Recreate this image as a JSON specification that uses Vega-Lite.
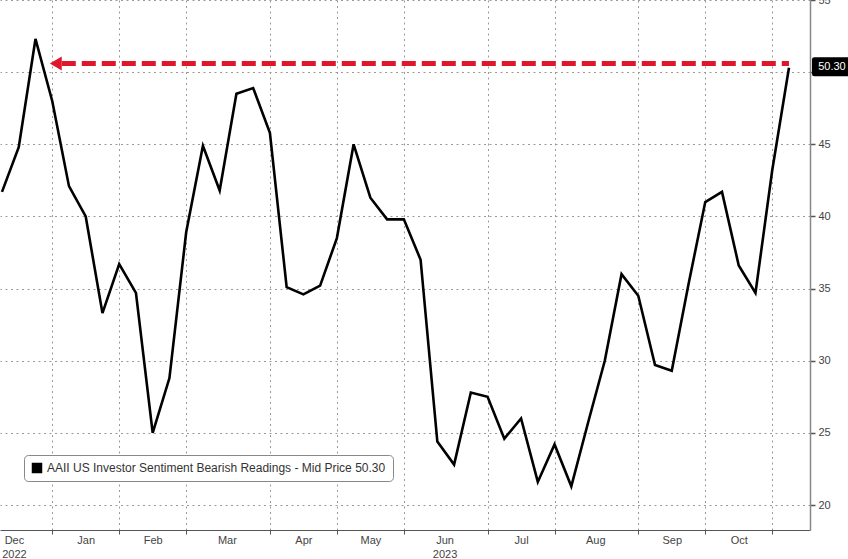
{
  "$schema": "https://vega.github.io/schema/vega-lite/v6.json",
  "width": 810,
  "height": 530,
  "autosize": {"type": "none"},
  "padding": {"left": 0, "top": 0, "right": 38, "bottom": 29},
  "background": "white",
  "config": {
    "view": {"stroke": null},
    "font": "Liberation Sans",
    "axis": {"labelFont": "Liberation Sans", "labelColor": "#444", "labelFontSize": 11}
  },
  "datasets": {
    "aaii": [
      {"date": "2022-12-08", "bearish": 41.7},
      {"date": "2022-12-15", "bearish": 44.8},
      {"date": "2022-12-22", "bearish": 52.3},
      {"date": "2022-12-29", "bearish": 48.0},
      {"date": "2023-01-05", "bearish": 42.1},
      {"date": "2023-01-12", "bearish": 40.0},
      {"date": "2023-01-19", "bearish": 33.3},
      {"date": "2023-01-26", "bearish": 36.7},
      {"date": "2023-02-02", "bearish": 34.7},
      {"date": "2023-02-09", "bearish": 25.0},
      {"date": "2023-02-16", "bearish": 28.8},
      {"date": "2023-02-23", "bearish": 38.9},
      {"date": "2023-03-02", "bearish": 44.9},
      {"date": "2023-03-09", "bearish": 41.8},
      {"date": "2023-03-16", "bearish": 48.5},
      {"date": "2023-03-23", "bearish": 48.9},
      {"date": "2023-03-30", "bearish": 45.8},
      {"date": "2023-04-06", "bearish": 35.1},
      {"date": "2023-04-13", "bearish": 34.6},
      {"date": "2023-04-20", "bearish": 35.2},
      {"date": "2023-04-27", "bearish": 38.5},
      {"date": "2023-05-04", "bearish": 45.0},
      {"date": "2023-05-11", "bearish": 41.3},
      {"date": "2023-05-18", "bearish": 39.8},
      {"date": "2023-05-25", "bearish": 39.8},
      {"date": "2023-06-01", "bearish": 37.0},
      {"date": "2023-06-08", "bearish": 24.4},
      {"date": "2023-06-15", "bearish": 22.8},
      {"date": "2023-06-22", "bearish": 27.8},
      {"date": "2023-06-29", "bearish": 27.5},
      {"date": "2023-07-06", "bearish": 24.6},
      {"date": "2023-07-13", "bearish": 26.0},
      {"date": "2023-07-20", "bearish": 21.6},
      {"date": "2023-07-27", "bearish": 24.2},
      {"date": "2023-08-03", "bearish": 21.3},
      {"date": "2023-08-10", "bearish": 25.7},
      {"date": "2023-08-17", "bearish": 30.0},
      {"date": "2023-08-24", "bearish": 36.0},
      {"date": "2023-08-31", "bearish": 34.5},
      {"date": "2023-09-07", "bearish": 29.7},
      {"date": "2023-09-14", "bearish": 29.3},
      {"date": "2023-09-21", "bearish": 35.3},
      {"date": "2023-09-28", "bearish": 41.0},
      {"date": "2023-10-05", "bearish": 41.7},
      {"date": "2023-10-12", "bearish": 36.6},
      {"date": "2023-10-19", "bearish": 34.7},
      {"date": "2023-10-26", "bearish": 43.2},
      {"date": "2023-11-02", "bearish": 50.3}
    ],
    "note": [{"start": "2023-01-02", "end": "2023-11-02", "level": 50.6}]
  },
  "resolve": {"axis": {"x": "independent", "y": "shared"}},
  "layer": [
    {
      "data": {"name": "aaii"},
      "mark": {"type": "line", "color": "#000000", "strokeWidth": 2.6, "strokeJoin": "miter"},
      "encoding": {
        "x": {
          "field": "date", "type": "temporal",
          "scale": {"type": "utc", "domain": [{"year": 2022, "month": 12, "date": 7, "hours": 4, "utc": true}, {"year": 2023, "month": 11, "date": 10, "hours": 19, "utc": true}]},
          "axis": {
            "orient": "bottom",
            "values": [
              {"year": 2022, "month": 12, "date": 29, "utc": true},
              {"year": 2023, "month": 1, "date": 26, "utc": true},
              {"year": 2023, "month": 2, "date": 23, "utc": true},
              {"year": 2023, "month": 3, "date": 30, "utc": true},
              {"year": 2023, "month": 4, "date": 27, "utc": true},
              {"year": 2023, "month": 5, "date": 25, "utc": true},
              {"year": 2023, "month": 6, "date": 29, "utc": true},
              {"year": 2023, "month": 7, "date": 27, "utc": true},
              {"year": 2023, "month": 8, "date": 31, "utc": true},
              {"year": 2023, "month": 9, "date": 28, "utc": true},
              {"year": 2023, "month": 10, "date": 26, "utc": true}
            ],
            "labels": false, "title": null,
            "grid": true, "gridColor": "#9a9a9a", "gridDash": [2, 3.5], "gridWidth": 1,
            "ticks": true, "tickSize": 4, "tickColor": "#555",
            "domain": true, "domainColor": "#555", "domainWidth": 1.2
          }
        },
        "y": {
          "field": "bearish", "type": "quantitative",
          "scale": {"domain": [18.27, 55], "nice": false, "zero": false},
          "axis": {
            "orient": "right", "title": null,
            "values": [20, 22.5, 25, 27.5, 30, 32.5, 35, 37.5, 40, 42.5, 45, 47.5, 50, 52.5, 55],
            "labelExpr": "(datum.value % 5 == 0 && datum.value != 50) ? datum.label : ''",
            "labelPadding": 3,
            "grid": true, "gridDash": [2, 3.5], "gridWidth": 1,
            "gridColor": {"condition": {"test": "datum.value % 5 != 0", "value": "transparent"}, "value": "#9a9a9a"},
            "tickSize": {"condition": {"test": "datum.value % 5 != 0", "value": 3}, "value": 5},
            "tickColor": "#555", "tickWidth": 1.5,
            "domainColor": "#888", "domainWidth": 1.5
          }
        },
        "color": {
          "datum": "AAII US Investor Sentiment Bearish Readings - Mid Price 50.30",
          "type": "nominal",
          "scale": {"range": ["#000000"]},
          "legend": {
            "title": null, "orient": "none", "legendX": 24, "legendY": 455,
            "symbolType": "square", "symbolSize": 110,
            "labelFontSize": 12, "labelColor": "#333", "labelFont": "Liberation Sans",
            "labelLimit": 500,
            "padding": 7, "strokeColor": "#888", "cornerRadius": 4, "fillColor": "#ffffff",
            "encode": {"symbols": {"update": {"fill": {"value": "#000000"}, "stroke": {"value": "#000000"}, "strokeWidth": {"value": 0}}}}
          }
        }
      }
    },
    {
      "data": {"name": "note"},
      "mark": {"type": "rule", "color": "#e0162b", "strokeWidth": 5, "strokeDash": [14, 6], "strokeCap": "butt"},
      "encoding": {
        "x": {
          "field": "start", "type": "temporal",
          "axis": {
            "orient": "bottom", "title": null,
            "values": [
              {"year": 2022, "month": 12, "date": 13, "utc": true},
              {"year": 2023, "month": 1, "date": 12, "utc": true},
              {"year": 2023, "month": 2, "date": 9, "utc": true},
              {"year": 2023, "month": 3, "date": 12, "utc": true},
              {"year": 2023, "month": 4, "date": 13, "utc": true},
              {"year": 2023, "month": 5, "date": 11, "utc": true},
              {"year": 2023, "month": 6, "date": 11, "utc": true},
              {"year": 2023, "month": 7, "date": 13, "utc": true},
              {"year": 2023, "month": 8, "date": 13, "utc": true},
              {"year": 2023, "month": 9, "date": 14, "utc": true},
              {"year": 2023, "month": 10, "date": 12, "utc": true}
            ],
            "labelExpr": "utcmonth(datum.value) == 11 ? ['Dec', '2022'] : (utcmonth(datum.value) == 5 ? ['Jun', '2023'] : utcFormat(datum.value, '%b'))",
            "grid": false, "ticks": false, "tickSize": 0, "domain": false,
            "labelPadding": 4, "labelLineHeight": 14, "labelFlush": false, "labelOverlap": false
          }
        },
        "x2": {"field": "end"},
        "y": {"field": "level", "type": "quantitative"}
      }
    },
    {
      "data": {"name": "note"},
      "mark": {"type": "point", "shape": "triangle-left", "filled": true, "color": "#e0162b", "opacity": 1, "size": 190, "xOffset": -6},
      "encoding": {
        "x": {"field": "start", "type": "temporal", "axis": null},
        "y": {"field": "level", "type": "quantitative"}
      }
    },
    {
      "data": {"name": "aaii"},
      "transform": [
        {"window": [{"op": "row_number", "as": "rn"}], "sort": [{"field": "date", "order": "descending"}]},
        {"filter": "datum.rn == 1"}
      ],
      "mark": {
        "type": "point", "filled": true, "color": "#000000", "opacity": 1, "size": 1444, "xOffset": 42, "yOffset": -1,
        "shape": "M-0.88,-0.5 L0.92,-0.5 Q1,-0.5 1,-0.4 L1,0.4 Q1,0.5 0.92,0.5 L-0.88,0.5 Q-1,0.5 -1,0.38 L-1,-0.38 Q-1,-0.5 -0.88,-0.5 Z"
      },
      "encoding": {
        "x": {"field": "date", "type": "temporal", "axis": null},
        "y": {"field": "bearish", "type": "quantitative"}
      }
    },
    {
      "data": {"name": "aaii"},
      "transform": [
        {"window": [{"op": "row_number", "as": "rn"}], "sort": [{"field": "date", "order": "descending"}]},
        {"filter": "datum.rn == 1"}
      ],
      "mark": {"type": "text", "color": "#ffffff", "fontSize": 11, "font": "Liberation Sans", "align": "center", "baseline": "middle", "xOffset": 43, "yOffset": -1},
      "encoding": {
        "x": {"field": "date", "type": "temporal", "axis": null},
        "y": {"field": "bearish", "type": "quantitative"},
        "text": {"field": "bearish", "type": "quantitative", "format": ".2f"}
      }
    }
  ]
}
